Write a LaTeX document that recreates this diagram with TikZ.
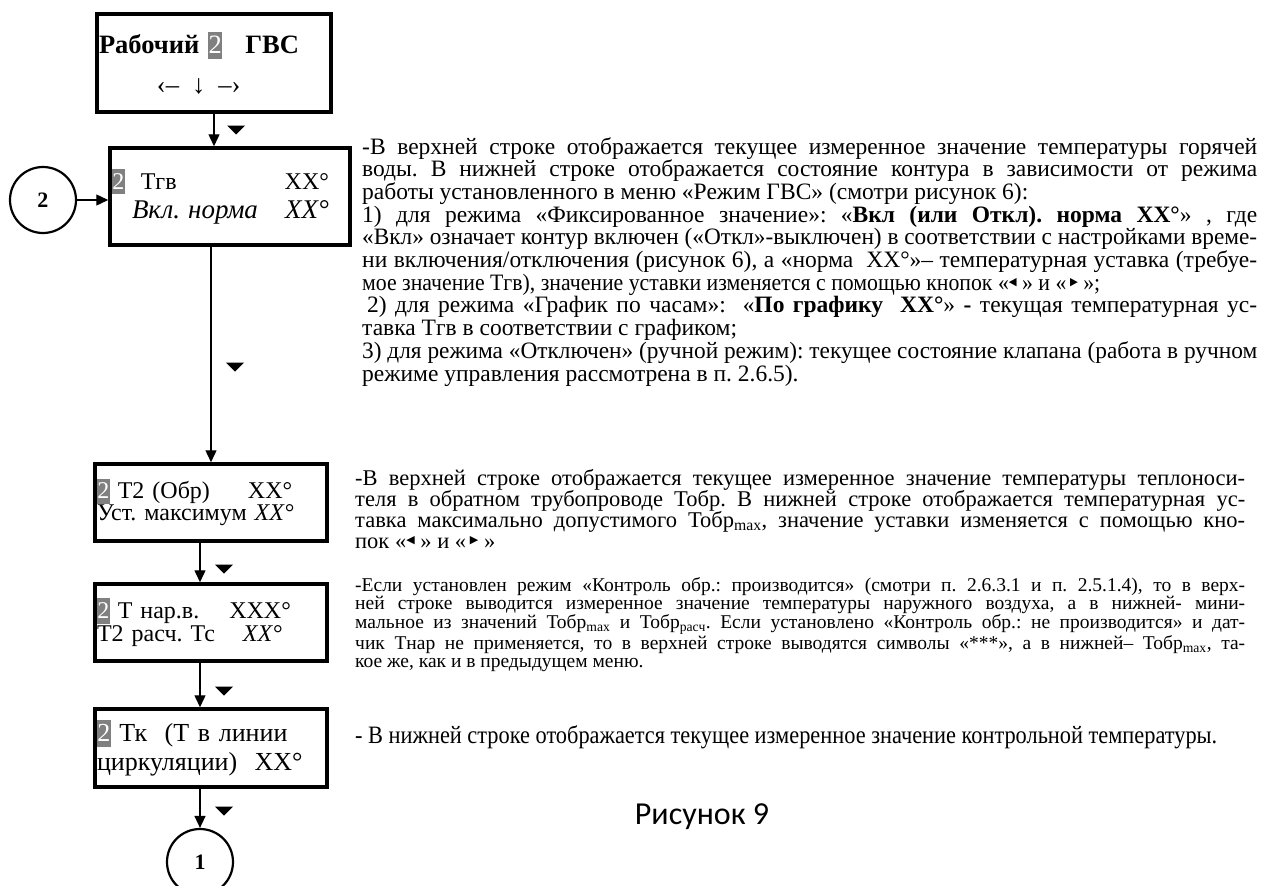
\documentclass[tikz,border=0pt]{standalone}
\usepackage{fontspec}
\setmainfont{Liberation Serif}
\newfontfamily\symfont{DejaVu Sans}
\newfontfamily\capfont{Carlito}
\usetikzlibrary{arrows.meta, positioning, calc}

\tolerance=10000
\hyphenpenalty=10000
\exhyphenpenalty=10000
\frenchspacing
\setlength{\parindent}{0pt}

\definecolor{hlgray}{HTML}{808080}
\newcommand{\hl}[1]{{\setlength{\fboxsep}{0.4pt}\colorbox{hlgray}{\rule[-0.2em]{0pt}{1.02em}\textcolor{white}{\mdseries #1}}}}
\newcommand{\lkey}{\raisebox{0.45ex}{\symfont\fontsize{11}{11}\selectfont ◀}}
\newcommand{\rkey}{\raisebox{0.45ex}{\symfont\fontsize{11}{11}\selectfont ▶}}
% one full-width line: stretched, or squeezed when it is too long
\newsavebox{\linebox}
\newcommand{\jl}[1]{\sbox{\linebox}{#1}%
    \ifdim\wd\linebox>\hsize\resizebox{\hsize}{\height}{\usebox{\linebox}}%
    \else\makebox[\hsize][s]{#1}\fi\par}

\tikzset{
    menu/.style={draw, line width=3.5pt, inner sep=0pt, align=left},
    jump/.style={circle, draw, line width=2.2pt, minimum size=66pt, inner sep=0pt,
        font=\fontsize{22}{22}\selectfont\bfseries},
    flow/.style={line width=1.4pt, -{Triangle[length=12pt, width=11pt]}},
    note/.style={anchor=north west, inner sep=0pt, align=justify},
    pics/dn/.style={code={\fill (-9,-4.5) -- (9,-4.5) -- (0,4.5) -- cycle;}}
}

\begin{document}
\begin{tikzpicture}[x=1pt, y=-1pt]
    \useasboundingbox (0,0) rectangle (1262,886);

    % menu screens
    \node[menu, minimum width=234pt, minimum height=98pt, text width=230pt,
        font=\fontsize{26.5}{40}\selectfont] (b1) at (214,63)
        {\textbf{Рабочий} \hl{2}\hspace{23pt}\textbf{ГВС}\\
         \hspace*{58pt}‹–\hspace{13pt}↓\hspace{13pt}–›};
    \node[menu, minimum width=240pt, minimum height=97pt, text width=236pt,
        font=\fontsize{24}{29}\selectfont] (b2) at (230,196.5)
        {\makebox[217pt][s]{\hl{2}\hspace{8pt} Тгв\hfill XX°}\\
         \makebox[217pt][s]{\hspace*{20pt}{\fontsize{27}{29}\selectfont\itshape Вкл. норма\hfill XX°}}};
    \node[menu, minimum width=232pt, minimum height=77pt, text width=228pt,
        font=\fontsize{24}{22}\selectfont] (b3) at (211,502.5)
        {\hl{2} Т2 (Обр)\hspace{38pt}XX°\\Уст. максимум \textit{XX°}};
    \node[menu, minimum width=232pt, minimum height=77pt, text width=228pt,
        font=\fontsize{24}{23}\selectfont] (b4) at (211,622.5)
        {\hl{2} Т нар.в.\hspace{30pt}XXX°\\Т2 расч. Тс\hspace{28pt}\textit{XX°}};
    \node[menu, minimum width=232pt, minimum height=78pt, text width=228pt,
        font=\fontsize{26}{29}\selectfont] (b5) at (211,748)
        {\hl{2} Тк~~(Т в линии\\циркуляции)~~XX°};

    \node[jump] (c2) at (43,200) {2};
    \node[jump] (c1) at (200,862) {1};

    % transitions
    \draw[flow] (b1.south) -- (b1.south |- b2.north);
    \draw[flow] (c2) -- (c2 -| b2.west);
    \draw[flow] (b3.north |- b2.south) -- (b3.north);
    \draw[flow] ([xshift=-11pt]b3.south) -- ([xshift=-11pt]b4.north);
    \draw[flow] ([xshift=-11pt]b4.south) -- ([xshift=-11pt]b5.north);
    \draw[flow] (c1.north |- b5.south) -- (c1.north);

    \pic at (236,130) {dn};
    \pic at (235,367) {dn};
    \pic at (224,569) {dn};
    \pic at (224,691) {dn};
    \pic at (224,811) {dn};

    % explanations
    \node[note, text width=895pt, font=\fontsize{23.5}{22.7}\selectfont] (t1) at (362,137)
        {\jl{-В верхней строке отображается текущее измеренное значение температуры горячей}
         \jl{воды. В нижней строке отображается состояние контура в зависимости от режима}
         работы установленного в меню «Режим ГВС» (смотри рисунок 6):\par
         \jl{1) для режима «Фиксированное значение»: «\textbf{Вкл (или Откл). норма XX°}» , где}
         \jl{«Вкл» означает контур включен («Откл»-выключен) в соответствии с настройками време-}
         \jl{ни включения/отключения (рисунок 6), а «норма~~XX°»– температурная уставка (требуе-}
         \resizebox{738pt}{\height}{мое значение Тгв), значение уставки изменяется с помощью кнопок «\lkey\ » и «\,\rkey\ »;}\par
         \jl{\hspace*{5pt}2) для режима «График по часам»: ~«\textbf{По графику~~XX°}» \textbf{-} текущая температурная ус-}
         тавка Тгв в соответствии с графиком;\par
         \jl{3) для режима «Отключен» (ручной режим): текущее состояние клапана (работа в ручном}
         режиме управления рассмотрена в п. 2.6.5).};
    \node[note, text width=890pt, font=\fontsize{22.5}{21}\selectfont] (t2) at (355,469)
        {\jl{-В верхней строке отображается текущее измеренное значение температуры теплоноси-}
         \jl{теля в обратном трубопроводе Тобр. В нижней строке отображается температурная ус-}
         \jl{тавка максимально допустимого Тобр\textsubscript{max}, значение уставки изменяется с помощью кно-}
         пок «\lkey\ » и «\,\rkey\ »};
    \node[note, text width=890pt, font=\fontsize{19.5}{18}\selectfont] (t3) at (355,577)
        {\jl{-Если установлен режим «Контроль обр.: производится» (смотри п. 2.6.3.1 и п. 2.5.1.4), то в верх-}
         \jl{ней строке выводится измеренное значение температуры наружного воздуха, а в нижней- мини-}
         \jl{мальное из значений Тобр\textsubscript{max} и Тобр\textsubscript{расч}. Если установлено «Контроль обр.: не производится» и дат-}
         \jl{чик Тнар не применяется, то в верхней строке выводятся символы «***», а в нижней– Тобр\textsubscript{max}, та-}
         кое же, как и в предыдущем меню.};
    \node[anchor=west, inner sep=0pt, font=\fontsize{25}{25}\selectfont] (t4) at (355,737)
        {\resizebox{862pt}{\height}{- В нижней строке отображается текущее измеренное значение контрольной температуры.}};

    \node[font=\capfont\fontsize{32}{32}\selectfont] (cap) at (702,817) {Рисунок 9};
\end{tikzpicture}
\end{document}
